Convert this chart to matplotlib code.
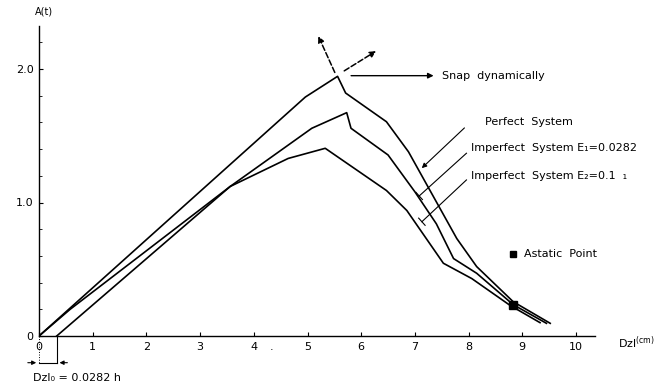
import numpy as np
import matplotlib
matplotlib.use('Agg')
import matplotlib.pyplot as plt

# curves (Dzl in cm, A(t))
dz_perfect = [0, 4.96, 5.56, 5.71, 6.47, 6.88, 7.78, 8.15, 8.83, 9.52]
a_perfect = [0, 1.79, 1.945, 1.82, 1.605, 1.38, 0.73, 0.52, 0.257, 0.095]

dz_e1 = [0.33, 3.56, 5.08, 5.73, 5.81, 6.5, 7.0, 7.4, 7.72, 8.15, 8.83, 9.45]
a_e1 = [0, 1.12, 1.556, 1.673, 1.556, 1.356, 1.08, 0.84, 0.58, 0.47, 0.235, 0.095]

dz_e2 = [0, 0.58, 3.56, 4.64, 5.33, 6.47, 6.85, 7.53, 8.06, 8.77, 9.33]
a_e2 = [0, 0.2, 1.12, 1.33, 1.406, 1.09, 0.94, 0.545, 0.43, 0.23, 0.10]

astatic_dz = 8.83
astatic_a = 0.235

x_ticks = [0, 1, 2, 3, 4, 5, 6, 7, 8, 9, 10]
x_ticklabels = ['0', '1', '2', '3', '4', '5', '6', '7', '8', '9', '10']
y_ticks = [0, 1.0, 2.0]
y_ticklabels = ['0', '1.0', '2.0']

fig = plt.figure(figsize=(6.68, 3.88), dpi=100)
ax = fig.add_axes([39 / 668, 52 / 388, 10.35 * 53.7 / 668, 2.32 * 133.5 / 388])
ax.set_xlim(0, 10.35)
ax.set_ylim(0, 2.32)

for s in ['top', 'right']:
    ax.spines[s].set_visible(False)
ax.spines['left'].set_linewidth(1.0)
ax.spines['bottom'].set_linewidth(1.0)

ax.set_xticks(x_ticks)
ax.set_xticklabels(x_ticklabels, fontsize=8)
ax.set_yticks(y_ticks)
ax.set_yticklabels(y_ticklabels, fontsize=8)
ax.set_yticks(np.arange(0.2, 2.3, 0.2), minor=True)
ax.tick_params(axis='both', which='major', direction='in', length=3, width=0.8, pad=4)
ax.tick_params(axis='y', which='minor', direction='in', length=2, width=0.6)
# stray dot next to the 4 label
ax.text(4.33, -0.105, '.', fontsize=8, ha='center', va='baseline', clip_on=False)

lc = 'black'
ax.plot(dz_perfect, a_perfect, color=lc, lw=1.2)
ax.plot(dz_e1, a_e1, color=lc, lw=1.2)
ax.plot(dz_e2, a_e2, color=lc, lw=1.2)
ax.plot([astatic_dz], [astatic_a], marker='s', ms=6, color=lc, clip_on=False)

# snap dynamically
pk = np.argmax(a_perfect)
px, py = dz_perfect[pk], a_perfect[pk]
ax.annotate('', xy=(px - 0.38, py + 0.32), xytext=(px - 0.03, py + 0.01),
            arrowprops=dict(arrowstyle='-|>', ls='--', color=lc, lw=1.1, mutation_scale=9),
            annotation_clip=False)
ax.annotate('', xy=(px + 0.76, py + 0.2), xytext=(px + 0.08, py + 0.03),
            arrowprops=dict(arrowstyle='-|>', ls='--', color=lc, lw=1.1, mutation_scale=9),
            annotation_clip=False)
ax.annotate('', xy=(7.4, py + 0.005), xytext=(px + 0.2, py + 0.005),
            arrowprops=dict(arrowstyle='-|>', color=lc, lw=1.0, mutation_scale=8))
ax.text(7.5, py + 0.005, 'Snap  dynamically', fontsize=8, va='center', ha='left')

# curve labels with leader lines
ax.annotate('', xy=(7.09, 1.243), xytext=(7.96, 1.573),
            arrowprops=dict(arrowstyle='-|>', color=lc, lw=0.8, mutation_scale=7))
ax.plot([7.96, 7.08], [1.369, 1.049], color=lc, lw=0.8)
ax.plot([7.08 - 0.06, 7.08 + 0.06], [1.049 + 0.027, 1.049 - 0.027], color=lc, lw=0.8)
ax.plot([7.96, 7.13], [1.169, 0.856], color=lc, lw=0.8)
ax.plot([7.13 - 0.06, 7.13 + 0.06], [0.856 + 0.027, 0.856 - 0.027], color=lc, lw=0.8)

ax.text(8.31, 1.603, 'Perfect  System', fontsize=8, va='center')
ax.text(8.04, 1.408, 'Imperfect  System E\u2081=0.0282', fontsize=8, va='center')
ax.text(8.04, 1.199, 'Imperfect  System E\u2082=0.1  \u2081', fontsize=8, va='center')

ax.plot([8.83], [0.612], marker='s', ms=5, color=lc)
ax.text(9.03, 0.612, 'Astatic  Point', fontsize=8, va='center')

# axis titles
ax.text(-0.07, 2.43, 'A(t)', fontsize=7, ha='left', va='center', clip_on=False)
ax.text(10.78, -0.05, 'Dzl$^{\\rm (cm)}$', fontsize=8, ha='left', va='center', clip_on=False)

# offset Dzl0
ax.plot([0, 0], [0, -0.2], color=lc, lw=0.7, ls=':', clip_on=False)
ax.plot([0.33, 0.33], [0, -0.2], color=lc, lw=0.8, clip_on=False)
ax.plot([0, 0.33], [-0.2, -0.2], color=lc, lw=0.8, clip_on=False)
ax.annotate('', xy=(0, -0.2), xytext=(-0.26, -0.2),
            arrowprops=dict(arrowstyle='-|>', color=lc, lw=0.8, mutation_scale=6),
            annotation_clip=False)
ax.annotate('', xy=(0.33, -0.2), xytext=(0.58, -0.2),
            arrowprops=dict(arrowstyle='-|>', color=lc, lw=0.8, mutation_scale=6),
            annotation_clip=False)
ax.text(-0.11, -0.315, 'Dzl\u2080 = 0.0282 h', fontsize=8, ha='left', va='center', clip_on=False)

fig.savefig('out.png', dpi=100)
